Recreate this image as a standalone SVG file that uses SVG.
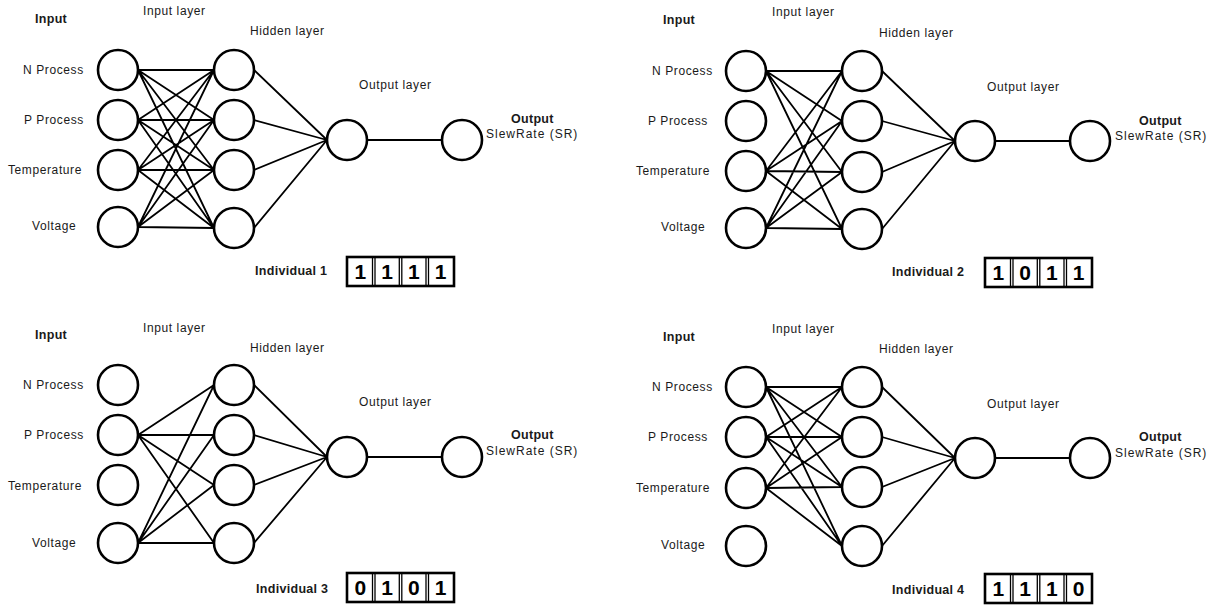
<svg xmlns="http://www.w3.org/2000/svg" width="1220" height="606" viewBox="0 0 1220 606">
<style>
  .n { fill: #fff; stroke: #000; stroke-width: 2.6; }
  .c { fill: none; stroke: #000; stroke-width: 1.8; }
  .t { font-family: "Liberation Sans", Arial, sans-serif; font-size: 12px; letter-spacing: 0.6px; fill: #1a1a1a; }
  .s { letter-spacing: 1px; }
  .b { font-family: "Liberation Sans", Arial, sans-serif; font-size: 12.5px; font-weight: bold; letter-spacing: 0.3px; fill: #1a1a1a; }
  .box { fill: #fff; stroke: #000; stroke-width: 2.6; }
  .div { stroke: #000; stroke-width: 1.3; }
  .d { font-family: "Liberation Sans", Arial, sans-serif; font-size: 21px; font-weight: bold; fill: #000; text-anchor: middle; }
</style>
<rect width="1220" height="606" fill="#fff"/>
<g id="connectors">
  <path class="c" d="M138 70L214 70M138 70L214 120M138 70L214 170M138 70L214 228M138 120L214 70M138 120L214 120M138 120L214 170M138 120L214 228M138 170L214 70M138 170L214 120M138 170L214 170M138 170L214 228M138 227L214 70M138 227L214 120M138 227L214 170M138 227L214 228M254 70L327 140M254 120L327 140M254 170L327 140M254 228L327 140M367 140L442 140"/>
  <path class="c" d="M766 71L842 71M766 71L842 121M766 71L842 172M766 71L842 229M766 171L842 71M766 171L842 121M766 171L842 172M766 171L842 229M766 228L842 71M766 228L842 121M766 228L842 172M766 228L842 229M882 71L955 141M882 121L955 141M882 172L955 141M882 229L955 141M995 141L1070 141"/>
  <path class="c" d="M138 435L214 385M138 435L214 435M138 435L214 485M138 435L214 543M138 543L214 385M138 543L214 435M138 543L214 485M138 543L214 543M254 385L327 457M254 435L327 457M254 485L327 457M254 543L327 457M367 457L442 457"/>
  <path class="c" d="M766 387L842 387M766 387L842 437M766 387L842 487M766 387L842 546M766 437L842 387M766 437L842 437M766 437L842 487M766 437L842 546M766 488L842 387M766 488L842 437M766 488L842 487M766 488L842 546M882 387L955 458M882 437L955 458M882 487L955 458M882 546L955 458M995 458L1070 458"/>
</g>

<!-- Panel 1 -->
<g id="p1-titles">
  <text class="b" x="35" y="23">Input</text>
  <text class="t" x="143" y="15">Input layer</text>
  <text class="t" x="250" y="35">Hidden layer</text>
  <text class="t" x="359" y="89">Output layer</text>
</g>
<g id="p1-in-n"><circle class="n" cx="118" cy="70" r="20"/><text class="t" x="23" y="74">N Process</text></g>
<g id="p1-in-p"><circle class="n" cx="118" cy="120" r="20"/><text class="t" x="24" y="124">P Process</text></g>
<g id="p1-in-t"><circle class="n" cx="118" cy="170" r="20"/><text class="t" x="8" y="174">Temperature</text></g>
<g id="p1-in-v"><circle class="n" cx="118" cy="227" r="20"/><text class="t" x="32" y="230">Voltage</text></g>
<g id="p1-h1"><circle class="n" cx="234" cy="70" r="20"/></g>
<g id="p1-h2"><circle class="n" cx="234" cy="120" r="20"/></g>
<g id="p1-h3"><circle class="n" cx="234" cy="170" r="20"/></g>
<g id="p1-h4"><circle class="n" cx="234" cy="228" r="20"/></g>
<g id="p1-ol"><circle class="n" cx="347" cy="140" r="20"/></g>
<g id="p1-out"><circle class="n" cx="462" cy="140" r="20"/><text class="b" x="511" y="123">Output</text><text class="t s" x="486" y="138">SlewRate (SR)</text></g>
<g id="p1-ind">
  <text class="b" x="255" y="275">Individual 1</text>
  <rect class="box" x="347" y="257" width="107" height="29"/>
  <line class="div" x1="372.5" y1="257" x2="372.5" y2="286"/><line class="div" x1="375" y1="257" x2="375" y2="286"/>
  <line class="div" x1="399.3" y1="257" x2="399.3" y2="286"/><line class="div" x1="401.8" y1="257" x2="401.8" y2="286"/>
  <line class="div" x1="426" y1="257" x2="426" y2="286"/><line class="div" x1="428.5" y1="257" x2="428.5" y2="286"/>
  <text class="d" x="360.4" y="279">1</text><text class="d" x="387.1" y="279">1</text><text class="d" x="413.9" y="279">1</text><text class="d" x="440.6" y="279">1</text>
</g>

<!-- Panel 2 -->
<g id="p2-titles">
  <text class="b" x="663" y="24">Input</text>
  <text class="t" x="772" y="16">Input layer</text>
  <text class="t" x="879" y="37">Hidden layer</text>
  <text class="t" x="987" y="91">Output layer</text>
</g>
<g id="p2-in-n"><circle class="n" cx="746" cy="71" r="20"/><text class="t" x="652" y="75">N Process</text></g>
<g id="p2-in-p"><circle class="n" cx="746" cy="121" r="20"/><text class="t" x="648" y="125">P Process</text></g>
<g id="p2-in-t"><circle class="n" cx="746" cy="171" r="20"/><text class="t" x="636" y="175">Temperature</text></g>
<g id="p2-in-v"><circle class="n" cx="746" cy="228" r="20"/><text class="t" x="661" y="231">Voltage</text></g>
<g id="p2-h1"><circle class="n" cx="862" cy="71" r="20"/></g>
<g id="p2-h2"><circle class="n" cx="862" cy="121" r="20"/></g>
<g id="p2-h3"><circle class="n" cx="862" cy="172" r="20"/></g>
<g id="p2-h4"><circle class="n" cx="862" cy="229" r="20"/></g>
<g id="p2-ol"><circle class="n" cx="975" cy="141" r="20"/></g>
<g id="p2-out"><circle class="n" cx="1090" cy="141" r="20"/><text class="b" x="1139" y="125">Output</text><text class="t s" x="1115" y="140">SlewRate (SR)</text></g>
<g id="p2-ind">
  <text class="b" x="892" y="276">Individual 2</text>
  <rect class="box" x="985" y="258" width="107" height="29"/>
  <line class="div" x1="1010.5" y1="258" x2="1010.5" y2="287"/><line class="div" x1="1013" y1="258" x2="1013" y2="287"/>
  <line class="div" x1="1037.3" y1="258" x2="1037.3" y2="287"/><line class="div" x1="1039.8" y1="258" x2="1039.8" y2="287"/>
  <line class="div" x1="1064" y1="258" x2="1064" y2="287"/><line class="div" x1="1066.5" y1="258" x2="1066.5" y2="287"/>
  <text class="d" x="998.4" y="280">1</text><text class="d" x="1025.1" y="280">0</text><text class="d" x="1051.9" y="280">1</text><text class="d" x="1078.6" y="280">1</text>
</g>

<!-- Panel 3 -->
<g id="p3-titles">
  <text class="b" x="35" y="339">Input</text>
  <text class="t" x="143" y="332">Input layer</text>
  <text class="t" x="250" y="352">Hidden layer</text>
  <text class="t" x="359" y="406">Output layer</text>
</g>
<g id="p3-in-n"><circle class="n" cx="118" cy="385" r="20"/><text class="t" x="23" y="389">N Process</text></g>
<g id="p3-in-p"><circle class="n" cx="118" cy="435" r="20"/><text class="t" x="24" y="439">P Process</text></g>
<g id="p3-in-t"><circle class="n" cx="118" cy="485" r="20"/><text class="t" x="8" y="490">Temperature</text></g>
<g id="p3-in-v"><circle class="n" cx="118" cy="543" r="20"/><text class="t" x="32" y="547">Voltage</text></g>
<g id="p3-h1"><circle class="n" cx="234" cy="385" r="20"/></g>
<g id="p3-h2"><circle class="n" cx="234" cy="435" r="20"/></g>
<g id="p3-h3"><circle class="n" cx="234" cy="485" r="20"/></g>
<g id="p3-h4"><circle class="n" cx="234" cy="543" r="20"/></g>
<g id="p3-ol"><circle class="n" cx="347" cy="457" r="20"/></g>
<g id="p3-out"><circle class="n" cx="462" cy="457" r="20"/><text class="b" x="511" y="439">Output</text><text class="t s" x="486" y="455">SlewRate (SR)</text></g>
<g id="p3-ind">
  <text class="b" x="256" y="593">Individual 3</text>
  <rect class="box" x="347" y="573" width="107" height="29"/>
  <line class="div" x1="372.5" y1="573" x2="372.5" y2="602"/><line class="div" x1="375" y1="573" x2="375" y2="602"/>
  <line class="div" x1="399.3" y1="573" x2="399.3" y2="602"/><line class="div" x1="401.8" y1="573" x2="401.8" y2="602"/>
  <line class="div" x1="426" y1="573" x2="426" y2="602"/><line class="div" x1="428.5" y1="573" x2="428.5" y2="602"/>
  <text class="d" x="360.4" y="595">0</text><text class="d" x="387.1" y="595">1</text><text class="d" x="413.9" y="595">0</text><text class="d" x="440.6" y="595">1</text>
</g>

<!-- Panel 4 -->
<g id="p4-titles">
  <text class="b" x="663" y="341">Input</text>
  <text class="t" x="772" y="333">Input layer</text>
  <text class="t" x="879" y="353">Hidden layer</text>
  <text class="t" x="987" y="408">Output layer</text>
</g>
<g id="p4-in-n"><circle class="n" cx="746" cy="387" r="20"/><text class="t" x="652" y="391">N Process</text></g>
<g id="p4-in-p"><circle class="n" cx="746" cy="437" r="20"/><text class="t" x="648" y="441">P Process</text></g>
<g id="p4-in-t"><circle class="n" cx="746" cy="488" r="20"/><text class="t" x="636" y="492">Temperature</text></g>
<g id="p4-in-v"><circle class="n" cx="746" cy="546" r="20"/><text class="t" x="661" y="549">Voltage</text></g>
<g id="p4-h1"><circle class="n" cx="862" cy="387" r="20"/></g>
<g id="p4-h2"><circle class="n" cx="862" cy="437" r="20"/></g>
<g id="p4-h3"><circle class="n" cx="862" cy="487" r="20"/></g>
<g id="p4-h4"><circle class="n" cx="862" cy="546" r="20"/></g>
<g id="p4-ol"><circle class="n" cx="975" cy="458" r="20"/></g>
<g id="p4-out"><circle class="n" cx="1090" cy="458" r="20"/><text class="b" x="1139" y="441">Output</text><text class="t s" x="1115" y="457">SlewRate (SR)</text></g>
<g id="p4-ind">
  <text class="b" x="892" y="594">Individual 4</text>
  <rect class="box" x="985" y="574" width="107" height="29"/>
  <line class="div" x1="1010.5" y1="574" x2="1010.5" y2="603"/><line class="div" x1="1013" y1="574" x2="1013" y2="603"/>
  <line class="div" x1="1037.3" y1="574" x2="1037.3" y2="603"/><line class="div" x1="1039.8" y1="574" x2="1039.8" y2="603"/>
  <line class="div" x1="1064" y1="574" x2="1064" y2="603"/><line class="div" x1="1066.5" y1="574" x2="1066.5" y2="603"/>
  <text class="d" x="998.4" y="596">1</text><text class="d" x="1025.1" y="596">1</text><text class="d" x="1051.9" y="596">1</text><text class="d" x="1078.6" y="596">0</text>
</g>
</svg>
